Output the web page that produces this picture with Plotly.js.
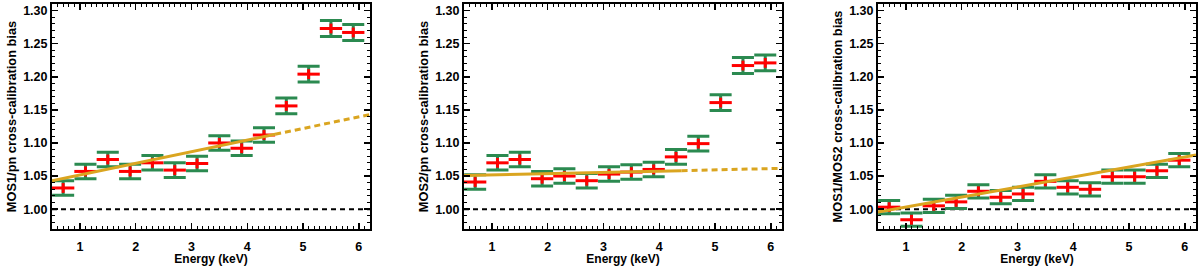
<!DOCTYPE html>
<html>
<head>
<meta charset="utf-8">
<script src="https://cdn.plot.ly/plotly-3.0.1.min.js"></script>
<style>html,body{margin:0;padding:0;background:#fff;}#chart{width:1200px;height:266px;}</style>
</head>
<body>
<div id="chart"></div>
<script>
// ---- data ----
const energy = [0.7, 1.1, 1.5, 1.9, 2.3, 2.7, 3.1, 3.5, 3.9, 4.3, 4.7, 5.1, 5.5, 5.9];
const energyHalfWidth = [0.2, 0.2, 0.2, 0.2, 0.2, 0.2, 0.2, 0.2, 0.2, 0.2, 0.2, 0.2, 0.2, 0.2];

const mos1pn    = [1.032, 1.057, 1.075, 1.057, 1.070, 1.059, 1.069, 1.100, 1.092, 1.112, 1.156, 1.204, 1.273, 1.267];
const mos1pnErr = [0.011, 0.011, 0.011, 0.011, 0.011, 0.011, 0.011, 0.011, 0.011, 0.011, 0.012, 0.012, 0.012, 0.012];

const mos2pn    = [1.041, 1.070, 1.075, 1.046, 1.050, 1.043, 1.053, 1.056, 1.060, 1.079, 1.099, 1.161, 1.217, 1.221];
const mos2pnErr = [0.011, 0.011, 0.011, 0.011, 0.011, 0.011, 0.011, 0.011, 0.011, 0.011, 0.011, 0.012, 0.012, 0.012];

const mos1mos2    = [1.003, 0.984, 1.005, 1.011, 1.027, 1.018, 1.023, 1.042, 1.033, 1.030, 1.049, 1.049, 1.058, 1.074];
const mos1mos2Err = [0.010, 0.010, 0.010, 0.010, 0.010, 0.010, 0.010, 0.010, 0.010, 0.010, 0.010, 0.010, 0.010, 0.010];

// linear fits: solid part (fitted range) and dashed extrapolation
const fit1SolidX = [0.5, 4.5],  fit1SolidY = [1.0427, 1.1131];
const fit1DashX  = [4.5, 6.2],  fit1DashY  = [1.1131, 1.1430];
const fit2SolidX = [0.5, 4.4],  fit2SolidY = [1.0507, 1.0582];
const fit2DashX  = [4.4, 6.2],  fit2DashY  = [1.0582, 1.0617];
const fit3SolidX = [0.5, 6.2],  fit3SolidY = [0.9955, 1.0818];

const refLevel = 1.0;
const yTitles = ['MOS1/pn cross-calibration bias', 'MOS2/pn cross-calibration bias', 'MOS1/MOS2 cross-calibration bias'];
const xTitle = 'Energy (keV)';
const xTickVals = [1, 2, 3, 4, 5, 6];
const yTickVals = [1.00, 1.05, 1.10, 1.15, 1.20, 1.25, 1.30];

// ---- styling ----
const GREEN = '#2b8a50', RED = '#ff0000', GOLD = '#daa520';
const FAM = 'Liberation Sans, Arial, sans-serif';
const TICKFONT = {family: FAM, size: 12.5, color: '#000', weight: 'bold'};
const XTFONT = {family: FAM, size: 12, color: '#000', weight: 'bold'};
const YTFONT = {family: FAM, size: 12.8, color: '#000', weight: 'bold'};

function dataTraces(y, err, xa, ya) {
  return {
    type: 'scatter', mode: 'markers', x: energy, y: y, xaxis: xa, yaxis: ya,
    marker: {symbol: 'line-ns', size: 7, color: RED, line: {color: RED, width: 3}},
    error_y: {type: 'data', array: err, visible: true, color: GREEN, thickness: 3, width: 11},
    error_x: {type: 'data', array: energyHalfWidth, visible: true, color: RED, thickness: 3, width: 0},
    hoverinfo: 'x+y', showlegend: false
  };
}
function line(x, y, xa, ya, dash) {
  return {type: 'scatter', mode: 'lines', x: x, y: y, xaxis: xa, yaxis: ya,
    line: {color: GOLD, width: 3, dash: dash}, showlegend: false, hoverinfo: 'skip'};
}

const traces = [
  dataTraces(mos1pn, mos1pnErr, 'x', 'y'),
  line(fit1SolidX, fit1SolidY, 'x', 'y', 'solid'),
  line(fit1DashX, fit1DashY, 'x', 'y', '6px,4px'),
  dataTraces(mos2pn, mos2pnErr, 'x2', 'y2'),
  line(fit2SolidX, fit2SolidY, 'x2', 'y2', 'solid'),
  line(fit2DashX, fit2DashY, 'x2', 'y2', '6px,4px'),
  dataTraces(mos1mos2, mos1mos2Err, 'x3', 'y3'),
  line(fit3SolidX, fit3SolidY, 'x3', 'y3', 'solid')
];

const H = 266, W = 1200;
const yDom = [(H - 229) / H, (H - 4) / H];
const xDoms = [[52 / W, 370 / W], [464 / W, 782 / W], [878 / W, 1196 / W]];

function xAxis(i) {
  return {
    domain: xDoms[i], range: [0.5, 6.2], anchor: i === 0 ? 'y' : 'y' + (i + 1),
    tickvals: xTickVals, ticks: 'inside', ticklen: 6, tickwidth: 1.5, tickcolor: '#000',
    minor: {dtick: 0.1, tick0: 0, ticks: 'inside', ticklen: 3, tickwidth: 1, tickcolor: '#000'},
    showline: true, linewidth: 2, linecolor: '#000', mirror: 'allticks',
    showgrid: false, zeroline: false, tickfont: TICKFONT, ticklabelstandoff: 5,
    title: {text: xTitle, font: XTFONT, standoff: 8}
  };
}
function yAxis(i) {
  return {
    domain: yDom, range: [0.97, 1.31], anchor: i === 0 ? 'x' : 'x' + (i + 1),
    tickvals: yTickVals, tickformat: '.2f', ticks: 'inside', ticklen: 6, tickwidth: 1.5, tickcolor: '#000',
    minor: {dtick: 0.01, tick0: 0, ticks: 'inside', ticklen: 3, tickwidth: 1, tickcolor: '#000'},
    showline: true, linewidth: 2, linecolor: '#000', mirror: 'allticks',
    showgrid: false, zeroline: false, tickfont: TICKFONT,
    title: {text: yTitles[i], font: YTFONT, standoff: 4}
  };
}

const shapes = ['x', 'x2', 'x3'].map((xa, i) => ({
  type: 'line', xref: xa + ' domain', yref: (i === 0 ? 'y' : 'y' + (i + 1)),
  x0: 0, x1: 1, y0: refLevel, y1: refLevel,
  line: {color: '#000', width: 2, dash: '5px,4px'}, layer: 'below'
}));

const layout = {
  width: W, height: H, margin: {l: 0, r: 0, t: 0, b: 0},
  paper_bgcolor: '#fff', plot_bgcolor: '#fff', showlegend: false,
  font: TICKFONT,
  xaxis: xAxis(0), yaxis: yAxis(0),
  xaxis2: xAxis(1), yaxis2: yAxis(1),
  xaxis3: xAxis(2), yaxis3: yAxis(2),
  shapes: shapes
};

Plotly.newPlot('chart', traces, layout, {displayModeBar: false, staticPlot: true});
</script>
</body>
</html>
